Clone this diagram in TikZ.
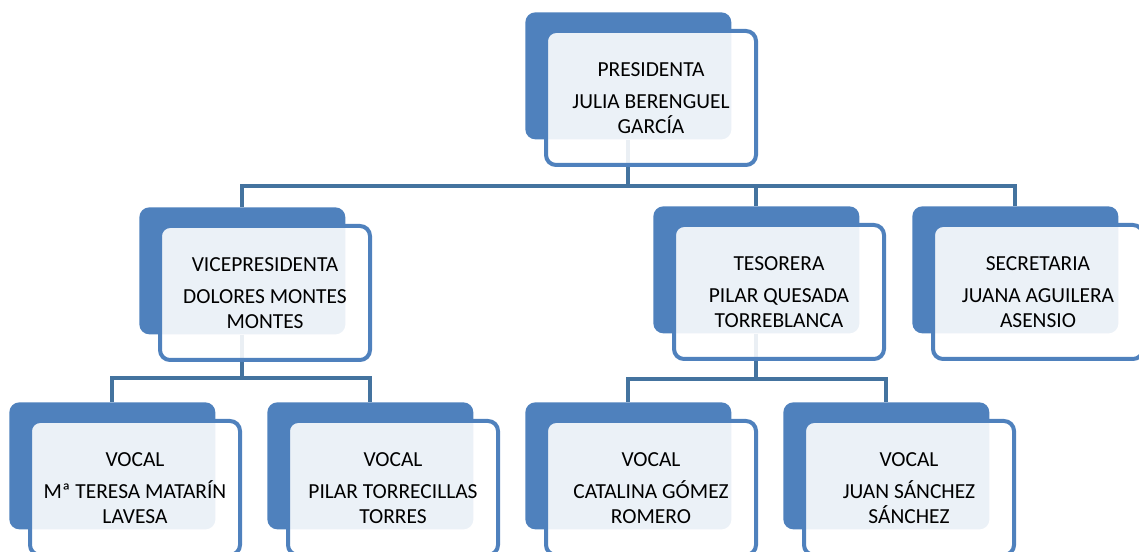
\documentclass[tikz,border=0pt]{standalone}
\usepackage{fontspec}
\setmainfont{Carlito}
\usetikzlibrary{
backgrounds,
calc,
positioning
}
\definecolor{chartblue}{HTML}{4F81BD}
\definecolor{linkblue}{HTML}{44739F}

\begin{document}
\begin{tikzpicture}[font=\fontsize{12.2}{13.8}\selectfont]
		\tikzset{backbox/.style={fill=chartblue,rounded corners=0.2cm,minimum width=4.12cm,minimum height=2.54cm,anchor=north west,inner sep=0pt}}
		\tikzset{frontbox/.style={draw=chartblue,line width=0.08cm,fill=white,fill opacity=0.89,text opacity=1,rounded corners=0.2cm,minimum width=4.2cm,minimum height=2.68cm,align=center,inner sep=2pt}}
		\tikzset{link/.style={draw=linkblue,line width=0.075cm}}
		
		\useasboundingbox (0,0) rectangle (22.78,-11.04);
		\clip (0,0) rectangle (22.78,-11.04);
		
		\node[backbox] (presback) at (10.5,-0.24) {};
		\node[frontbox,below right=0.34cm and 0.38cm of presback.north west] (pres) {PRESIDENTA\\[4.5pt]JULIA BERENGUEL\\GARCÍA};
		
		\node[backbox] (viceback) at (2.78,-4.14) {};
		\node[frontbox,below right=0.34cm and 0.38cm of viceback.north west] (vice) {VICEPRESIDENTA\\[4.5pt]DOLORES MONTES\\MONTES};
		
		\node[backbox] (tesoback) at (13.06,-4.12) {};
		\node[frontbox,below right=0.34cm and 0.38cm of tesoback.north west] (teso) {TESORERA\\[4.5pt]PILAR QUESADA\\TORREBLANCA};
		
		\node[backbox] (secback) at (18.24,-4.12) {};
		\node[frontbox,below right=0.34cm and 0.38cm of secback.north west] (sec) {SECRETARIA\\[4.5pt]JUANA AGUILERA\\ASENSIO};
		
		\node[backbox] (vocalAback) at (0.18,-8.04) {};
		\node[frontbox,below right=0.34cm and 0.38cm of vocalAback.north west] (vocalA) {VOCAL\\[4.5pt]Mª TERESA MATARÍN\\LAVESA};
		
		\node[backbox] (vocalBback) at (5.34,-8.04) {};
		\node[frontbox,below right=0.34cm and 0.38cm of vocalBback.north west] (vocalB) {VOCAL\\[4.5pt]PILAR TORRECILLAS\\TORRES};
		
		\node[backbox] (vocalCback) at (10.5,-8.04) {};
		\node[frontbox,below right=0.34cm and 0.38cm of vocalCback.north west] (vocalC) {VOCAL\\[4.5pt]CATALINA GÓMEZ\\ROMERO};
		
		\node[backbox] (vocalDback) at (15.66,-8.04) {};
		\node[frontbox,below right=0.34cm and 0.38cm of vocalDback.north west] (vocalD) {VOCAL\\[4.5pt]JUAN SÁNCHEZ\\SÁNCHEZ};
		
		\begin{scope}[on background layer]
			\draw[link] (presback.south) -- ++(0,-0.92) coordinate (presbus);
			\draw[link] (viceback.north) |- (presbus) -| (secback.north);
			\draw[link] (presbus) -| (tesoback.north);
			
			\draw[link] (viceback.south) -- ++(0,-0.86) coordinate (vicebus);
			\draw[link] (vocalAback.north) |- (vicebus) -| (vocalBback.north);
			
			\draw[link] (tesoback.south) -- ++(0,-0.9) coordinate (tesobus);
			\draw[link] (vocalCback.north) |- (tesobus) -| (vocalDback.north);
		\end{scope}
	\end{tikzpicture}
\end{document}
